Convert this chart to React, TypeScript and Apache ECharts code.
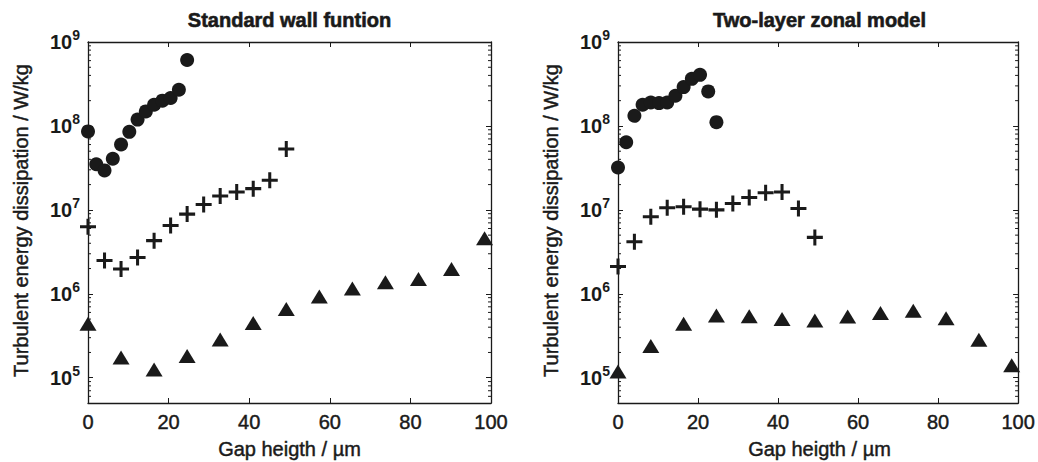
import React, { useEffect, useRef } from "react";
import * as echarts from "echarts";

const TITLES = ["Standard wall funtion", "Two-layer zonal model"];
const X_NAME = "Gap heigth / µm";
const Y_NAME = "Turbulent energy dissipation / W/kg";

const X_CIRCLE = [0, 2.05, 4.1, 6.15, 8.2, 10.25, 12.3, 14.35, 16.4, 18.45, 20.5, 22.55, 24.6];
const X_CROSS = [0, 4.1, 8.2, 12.3, 16.4, 20.5, 24.6, 28.7, 32.8, 36.9, 41, 45.1, 49.2];
const X_TRIANGLE = [0, 8.2, 16.4, 24.6, 32.8, 41, 49.2, 57.4, 65.6, 73.8, 82, 90.2, 98.4];

// Standard wall function
const STD_CIRCLE = [8.6e7, 3.5e7, 2.95e7, 4.06e7, 6.0e7, 8.5e7, 1.19e8, 1.49e8, 1.79e8, 2.0e8, 2.15e8, 2.7e8, 6.1e8];
const STD_CROSS = [6.3e6, 2.5e6, 1.97e6, 2.7e6, 4.3e6, 6.5e6, 8.9e6, 1.16e7, 1.46e7, 1.63e7, 1.79e7, 2.26e7, 5.3e7];
const STD_TRIANGLE = [4.4e5, 1.74e5, 1.25e5, 1.82e5, 2.86e5, 4.48e5, 6.6e5, 9.3e5, 1.16e6, 1.37e6, 1.5e6, 1.97e6, 4.6e6];

// Two-layer zonal model
const TWO_CIRCLE = [3.2e7, 6.4e7, 1.32e8, 1.79e8, 1.9e8, 1.87e8, 1.9e8, 2.29e8, 2.9e8, 3.64e8, 4.06e8, 2.58e8, 1.11e8];
const TWO_CROSS = [2.12e6, 4.16e6, 8.3e6, 1.06e7, 1.09e7, 1.02e7, 1.0e7, 1.19e7, 1.4e7, 1.6e7, 1.63e7, 1.04e7, 4.7e6];
const TWO_TRIANGLE = [1.19e5, 2.39e5, 4.4e5, 5.5e5, 5.4e5, 5.0e5, 4.8e5, 5.37e5, 5.9e5, 6.3e5, 5.1e5, 2.84e5, 1.41e5];

const Y_MIN = 5e4;
const Y_MAX = 1e9;
const X_MIN = 0;
const X_MAX = 100;
const X_TICKS_INTERVAL = 20;

const INK = "#1a1a1a";
const FONT = "'Liberation Sans', Arial, Helvetica, sans-serif";
const CROSS_PATH = "path://M8.1,0H11.9V8.1H20V11.9H11.9V20H8.1V11.9H0V8.1H8.1Z";
const TEXT_STROKE = 0.45;

const zip = (xs: number[], ys: number[]) => xs.map((x, i) => [x, ys[i]]);

function minorTickValues(): number[] {
  const out: number[] = [];
  for (let e = 4; e <= 8; e++) {
    for (let m = 2; m <= 9; m++) {
      const v = m * Math.pow(10, e);
      if (v > Y_MIN && v < Y_MAX) out.push(v);
    }
  }
  return out;
}

export default function App() {
  const ref = useRef<HTMLDivElement>(null);

  useEffect(() => {
    if (!ref.current) return;
    const chart = echarts.init(ref.current, undefined, { renderer: "svg" });

    const grids = [
      { left: 88, top: 42, width: 403, height: 361 },
      { left: 618, top: 42, width: 403, height: 361 },
    ];

    const xAxes: any[] = [];
    const yAxes: any[] = [];
    grids.forEach((_, gi) => {
      const base = {
        gridIndex: gi,
        type: "value",
        min: X_MIN,
        max: X_MAX,
        interval: X_TICKS_INTERVAL,
        splitLine: { show: false },
        axisLine: { show: true, onZero: false, lineStyle: { color: INK, width: 1.3 } },
        axisTick: { show: true, inside: true, length: 5, lineStyle: { color: INK, width: 1 } },
      };
      xAxes.push({
        ...base,
        position: "bottom",
        axisLabel: {
          show: true,
          margin: 9,
          color: INK,
          fontSize: 20,
          fontFamily: FONT,
          textBorderColor: INK,
          textBorderWidth: TEXT_STROKE,
        },
      });
      xAxes.push({ ...base, position: "top", axisLabel: { show: false } });

      const ybase = {
        gridIndex: gi,
        type: "log",
        logBase: 10,
        min: Y_MIN,
        max: Y_MAX,
        splitLine: { show: false },
        axisLine: { show: true, onZero: false, lineStyle: { color: INK, width: 1.3 } },
        axisTick: { show: true, inside: true, length: 5, lineStyle: { color: INK, width: 1 } },
      };
      yAxes.push({
        ...ybase,
        position: "left",
        axisLabel: {
          show: true,
          margin: 8,
          showMinLabel: false,
          formatter: (v: number) => {
            const l = Math.log10(v);
            const e = Math.round(l);
            if (Math.abs(l - e) > 1e-6) return "";
            return `{a|10}{b|${e}}`;
          },
          rich: {
            a: { fontSize: 20, lineHeight: 28, color: INK, fontFamily: FONT, fontWeight: "bold" },
            b: { fontSize: 14, lineHeight: 14, verticalAlign: "top", color: INK, fontFamily: FONT, fontWeight: "bold" },
          },
        },
      });
      yAxes.push({ ...ybase, position: "right", axisLabel: { show: false } });
    });

    const minor = minorTickValues().map((v) => [X_MIN, v]);

    const series: any[] = [];
    const panels = [
      { circle: STD_CIRCLE, cross: STD_CROSS, tri: STD_TRIANGLE },
      { circle: TWO_CIRCLE, cross: TWO_CROSS, tri: TWO_TRIANGLE },
    ];
    panels.forEach((p, gi) => {
      const xi = gi * 2;
      const yi = gi * 2;
      series.push({
        type: "custom",
        xAxisIndex: xi,
        yAxisIndex: yi,
        silent: true,
        data: minor,
        renderItem: (_params: any, api: any) => {
          const v = api.value(1);
          const pl = api.coord([X_MIN, v]);
          const pr = api.coord([X_MAX, v]);
          return {
            type: "group",
            children: [
              { type: "line", shape: { x1: pl[0], y1: pl[1], x2: pl[0] + 3, y2: pl[1] }, style: { stroke: INK, lineWidth: 1 } },
              { type: "line", shape: { x1: pr[0], y1: pr[1], x2: pr[0] - 3, y2: pr[1] }, style: { stroke: INK, lineWidth: 1 } },
            ],
          };
        },
      });
      const style = { color: INK, opacity: 1 };
      series.push({
        type: "scatter",
        xAxisIndex: xi,
        yAxisIndex: yi,
        clip: false,
        symbol: "circle",
        symbolSize: 14,
        itemStyle: style,
        data: zip(X_CIRCLE, p.circle),
      });
      series.push({
        type: "scatter",
        xAxisIndex: xi,
        yAxisIndex: yi,
        clip: false,
        symbol: CROSS_PATH,
        symbolSize: 16,
        itemStyle: style,
        data: zip(X_CROSS, p.cross),
      });
      series.push({
        type: "scatter",
        xAxisIndex: xi,
        yAxisIndex: yi,
        clip: false,
        symbol: "triangle",
        symbolSize: [17, 14],
        itemStyle: style,
        data: zip(X_TRIANGLE, p.tri),
      });
    });

    const graphics: any[] = [];
    grids.forEach((g, gi) => {
      const cx = g.left + g.width / 2;
      const cy = g.top + g.height / 2;
      graphics.push({
        type: "text",
        x: cx,
        y: 20,
        style: { text: TITLES[gi], fill: INK, font: `bold 20px ${FONT}`, textAlign: "center", textVerticalAlign: "middle", stroke: INK, lineWidth: 0.6 },
      });
      graphics.push({
        type: "text",
        x: cx,
        y: 449,
        style: { text: X_NAME, fill: INK, font: `20px ${FONT}`, textAlign: "center", textVerticalAlign: "middle", stroke: INK, lineWidth: TEXT_STROKE },
      });
      graphics.push({
        type: "text",
        x: g.left - 67,
        y: cy - 2,
        rotation: Math.PI / 2,
        style: { text: Y_NAME, fill: INK, font: `20px ${FONT}`, textAlign: "center", textVerticalAlign: "middle", stroke: INK, lineWidth: TEXT_STROKE },
      });
    });

    chart.setOption({
      animation: false,
      backgroundColor: "#ffffff",
      grid: grids,
      xAxis: xAxes,
      yAxis: yAxes,
      series,
      graphic: graphics,
    });

    return () => chart.dispose();
  }, []);

  return (
    <div
      ref={ref}
      style={{ position: "absolute", left: 0, top: 0, width: 1038, height: 462, background: "#fff" }}
    />
  );
}
